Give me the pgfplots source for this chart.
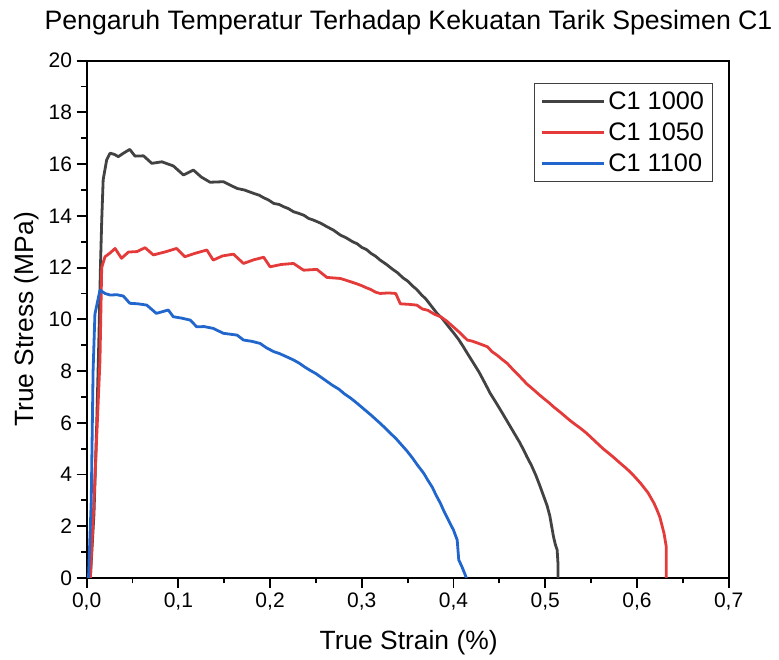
\documentclass[border=0pt]{standalone}
\usepackage{fontspec}
\setmainfont{Liberation Sans}
\usepackage{pgfplots}
\pgfplotsset{compat=1.18}

\definecolor{cdark}{RGB}{66,66,66}
\definecolor{cred}{RGB}{228,58,58}
\definecolor{cblue}{RGB}{32,102,204}

\begin{document}
\begin{tikzpicture}
% page frame
\path[use as bounding box] (0pt,0pt) rectangle (584.25pt,495pt);

\begin{axis}[
  at={(65pt,61.5pt)}, anchor=south west,
  scale only axis, width=481.5pt, height=388pt,
  xmin=0, xmax=0.7, ymin=0, ymax=20,
  xtick={0,0.1,...,0.7}, ytick={0,2,...,20},
  minor x tick num=1, minor y tick num=1,
  xtick pos=bottom, ytick pos=left,
  tick align=outside,
  major tick length=7.5pt, minor tick length=4pt,
  every tick/.style={black, line width=1.4pt},
  axis line style={black, line width=1.7pt},
  /pgf/number format/assume math mode=true,
  xticklabel style={/pgf/number format/.cd, use comma, fixed, fixed zerofill, precision=1},
  ticklabel style={font=\fontsize{15.75}{18}\selectfont},
  legend style={at={(0.976,0.956)}, anchor=north east,
    draw=black!75, line width=0.8pt, fill=white,
    font=\fontsize{19}{22}\selectfont, row sep=4.5pt,
    inner xsep=4.5pt, inner ysep=4pt},
  legend cell align=left,
  legend image code/.code={\draw[#1, line width=2.4pt] (0pt,0pt) -- (46.5pt,0pt);},
  every axis plot/.append style={line width=2.1pt, line join=round},
]
\addplot[cdark] coordinates {
(0.004,0) (0.008,2.5) (0.011,6) (0.0135,9.5) (0.015,12) (0.0164,13.8)
(0.018,15.4) (0.0218,16.16) (0.0255,16.42) (0.030,16.38) (0.0345,16.29)
(0.040,16.42) (0.047,16.57) (0.0527,16.31) (0.062,16.32) (0.071,16.03)
(0.082,16.09) (0.0945,15.93) (0.1055,15.58) (0.1164,15.77) (0.125,15.5)
(0.1346,15.3) (0.149,15.32) (0.164,15.06) (0.172,15.0) (0.182,14.87)
(0.188,14.8) (0.193,14.7) (0.198,14.62) (0.204,14.48) (0.210,14.44)
(0.215,14.35) (0.220,14.28) (0.2255,14.16) (0.231,14.1) (0.237,14.02)
(0.242,13.9) (0.247,13.84) (0.255,13.72) (0.262,13.58) (0.269,13.45)
(0.2765,13.26) (0.283,13.15) (0.290,13.0) (0.295,12.92) (0.300,12.78)
(0.305,12.7) (0.310,12.55) (0.315,12.44) (0.320,12.29) (0.327,12.12)
(0.333,11.95) (0.339,11.8) (0.345,11.6) (0.350,11.48) (0.355,11.3)
(0.360,11.15) (0.365,10.95) (0.370,10.78) (0.375,10.55) (0.382,10.23)
(0.3875,10.04) (0.395,9.7) (0.400,9.48) (0.405,9.25) (0.410,8.98)
(0.415,8.69) (0.421,8.35) (0.428,7.95) (0.434,7.55) (0.440,7.14)
(0.446,6.8) (0.452,6.45) (0.457,6.15) (0.462,5.85) (0.467,5.55)
(0.472,5.25) (0.476,4.98) (0.480,4.69) (0.485,4.35) (0.490,3.95)
(0.494,3.58) (0.4985,3.14) (0.502,2.8) (0.505,2.4) (0.507,2.0)
(0.509,1.6) (0.511,1.3) (0.513,1.08) (0.514,0.5) (0.514,0)
};
\addlegendentry{C1 1000}
\addplot[cred] coordinates {
(0.004,0) (0.008,3) (0.011,5.5) (0.0145,8.4) (0.0164,12.0) (0.020,12.42)
(0.025,12.55) (0.031,12.74) (0.038,12.36) (0.0455,12.6) (0.055,12.62)
(0.0637,12.77) (0.0727,12.49) (0.085,12.6) (0.098,12.74) (0.107,12.42)
(0.118,12.55) (0.131,12.68) (0.138,12.29) (0.148,12.45) (0.160,12.52)
(0.171,12.16) (0.182,12.3) (0.193,12.4) (0.200,12.03) (0.212,12.12)
(0.2255,12.16) (0.2365,11.9) (0.251,11.93) (0.262,11.62) (0.2765,11.58)
(0.282,11.52) (0.288,11.45) (0.294,11.38) (0.300,11.3) (0.305,11.22)
(0.310,11.15) (0.315,11.05) (0.320,11.0) (0.329,11.02) (0.337,11.0)
(0.342,10.6) (0.351,10.58) (0.360,10.55) (0.366,10.4) (0.372,10.35)
(0.379,10.2) (0.386,10.1) (0.393,9.92) (0.400,9.7) (0.407,9.48)
(0.415,9.2) (0.420,9.16) (0.425,9.1) (0.431,9.02) (0.437,8.94)
(0.442,8.75) (0.448,8.6) (0.453,8.45) (0.4585,8.3) (0.465,8.05)
(0.472,7.8) (0.480,7.5) (0.4876,7.27) (0.493,7.1) (0.498,6.95)
(0.504,6.78) (0.509,6.62) (0.515,6.45) (0.520,6.3) (0.526,6.12)
(0.531,5.98) (0.538,5.8) (0.545,5.6) (0.551,5.4) (0.557,5.2)
(0.563,5.0) (0.570,4.8) (0.576,4.62) (0.582,4.43) (0.588,4.25)
(0.594,4.05) (0.599,3.86) (0.604,3.66) (0.608,3.48) (0.612,3.3)
(0.6186,2.89) (0.622,2.62) (0.625,2.35) (0.6295,1.73) (0.632,1.2) (0.632,0)
};
\addlegendentry{C1 1050}
\addplot[cblue] coordinates {
(0.002,0) (0.005,3) (0.007,8) (0.009,10.2) (0.0145,11.13) (0.020,11.0)
(0.0255,10.94) (0.033,10.95) (0.04,10.9) (0.047,10.62) (0.056,10.6)
(0.0655,10.55) (0.076,10.23) (0.083,10.3) (0.089,10.36) (0.0945,10.1)
(0.103,10.05) (0.113,9.97) (0.12,9.71) (0.128,9.72) (0.138,9.65)
(0.149,9.46) (0.164,9.39) (0.171,9.2) (0.180,9.15) (0.189,9.07)
(0.196,8.9) (0.204,8.75) (0.210,8.68) (0.215,8.6) (0.220,8.52)
(0.2255,8.43) (0.232,8.3) (0.238,8.15) (0.244,8.02) (0.25,7.9)
(0.256,7.75) (0.262,7.6) (0.268,7.45) (0.275,7.3) (0.281,7.12)
(0.288,6.95) (0.294,6.78) (0.300,6.6) (0.305,6.45) (0.310,6.3)
(0.315,6.14) (0.320,5.98) (0.326,5.78) (0.331,5.6) (0.337,5.4)
(0.342,5.2) (0.349,4.92) (0.355,4.65) (0.361,4.35) (0.3675,4.05)
(0.372,3.78) (0.377,3.5) (0.381,3.2) (0.3857,2.89) (0.390,2.55)
(0.395,2.2) (0.400,1.85) (0.404,1.47) (0.4057,0.70) (0.409,0.45)
(0.413,0.1) (0.414,0)
};
\addlegendentry{C1 1100}
\end{axis}

% title and axis labels
\node[anchor=base, font=\fontsize{20}{24}\selectfont] at (306.4pt,473pt)
  {Pengaruh Temperatur Terhadap Kekuatan Tarik Spesimen C1};
\node[anchor=base, font=\fontsize{19.8}{24}\selectfont] at (306.45pt,7.5pt)
  {True Strain (\%)};
\node[anchor=base, rotate=90, font=\fontsize{19.8}{24}\selectfont] at (24.75pt,255.4pt)
  {True Stress (MPa)};
\end{tikzpicture}
\end{document}
